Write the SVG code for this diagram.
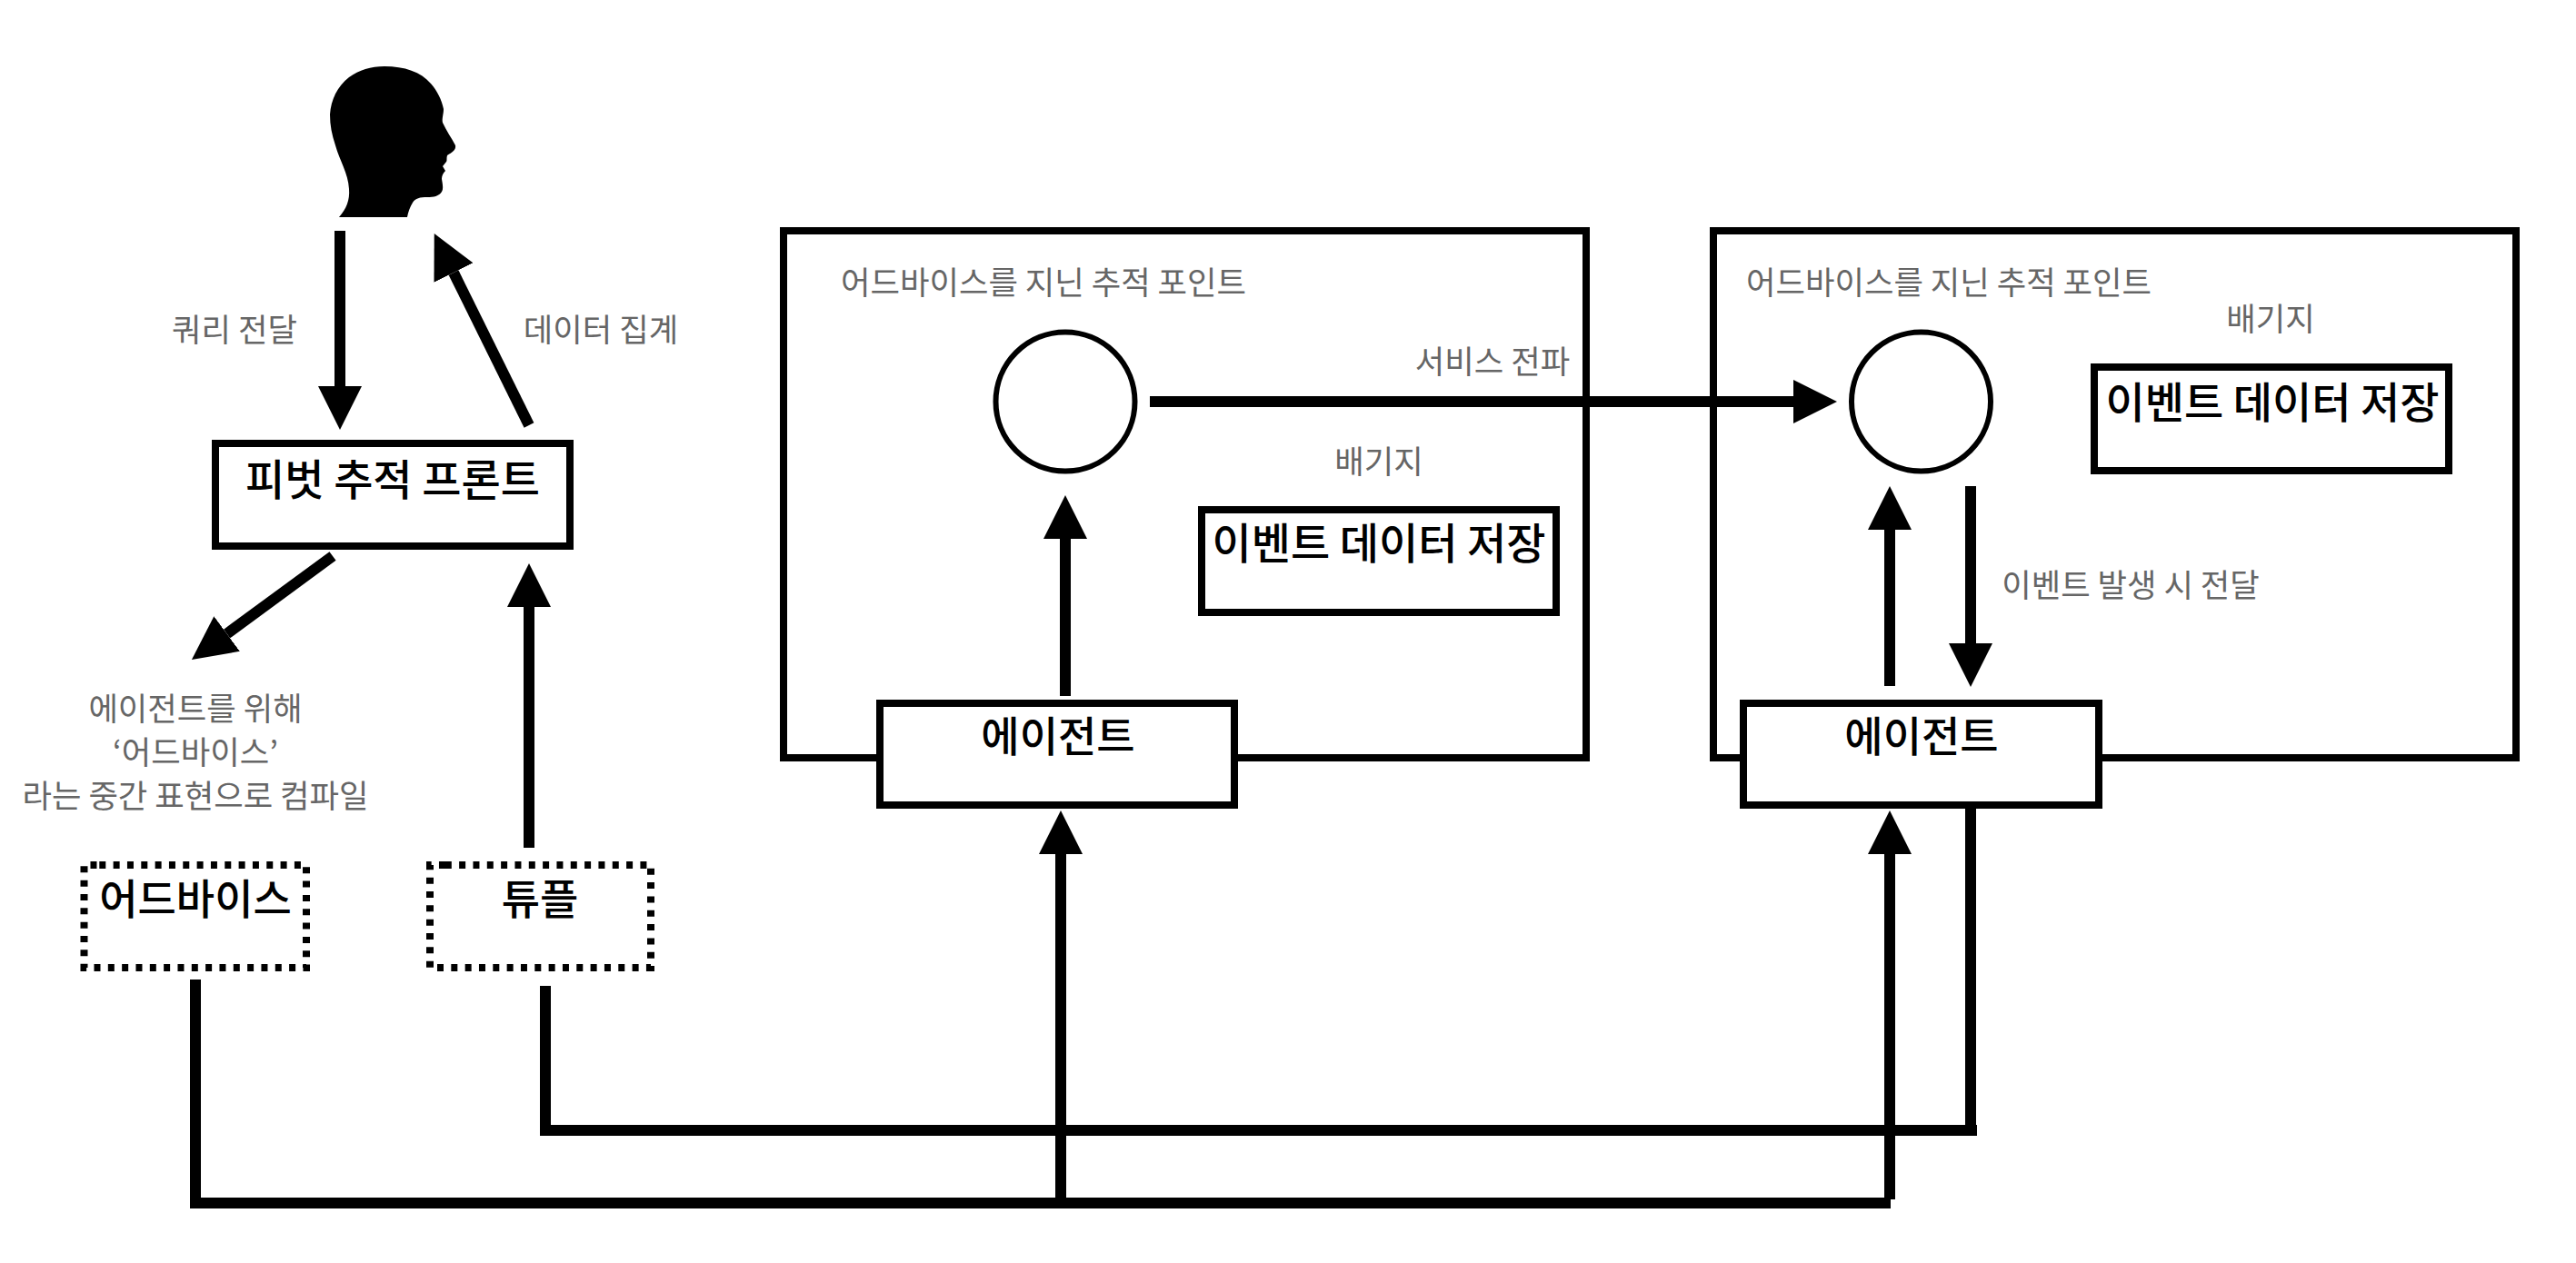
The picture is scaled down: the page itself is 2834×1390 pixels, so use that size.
<svg xmlns="http://www.w3.org/2000/svg" width="2834" height="1390" viewBox="0 0 2834 1390">
<style>
text{font-family:"Noto Sans CJK KR","Noto Sans",sans-serif;text-anchor:middle}
.g{font-size:35.300px;fill:#666}
.b{font-size:47px;font-weight:500;fill:#000}
.s{font-size:46px}
.box{fill:#fff;stroke:#000;stroke-width:8}
.ring{fill:#fff;stroke:#000;stroke-width:6}
.dot{fill:#fff;stroke:#000;stroke-width:8;stroke-dasharray:7 8.330}
.c{fill:none;stroke:#000;stroke-width:12}
.a{fill:none;stroke:#000;stroke-width:12;marker-end:url(#ah)}
</style>
<defs><marker id="ah" viewBox="0 0 4 4" refX="0" refY="2" markerWidth="4" markerHeight="4" orient="auto"><path d="M0,0L4,2L0,4Z" fill="#000"/></marker></defs>
<rect width="2834" height="1390" fill="#fff"/>
<g id="person"><path d="M373,239C381,230 385,220 384,208C383,190 374,178 369,160C365,148 363,138 363,126C364,110 371,95 384,85C395,77 408,73 423,73C445,73 463,79 474,92C481,100 486,110 488,120C488,126 486,130 487,135C491,144 497,152 501,160C502,165 497,168 492,171C491,174 492,177 491,178L487,183L490,188C487,191 486,194 486,197C487,203 488,208 486,211C483,216 477,217 470,217C462,217 457,218 454,223C451,228 449,233 448,239Z" fill="#000"/></g>
<g id="tracking-point-1"><rect class="box" x="862" y="254" width="883" height="580"/><text class="g" x="1148" y="324">어드바이스를 지닌 추적 포인트</text><circle class="ring" cx="1172" cy="442" r="76.500"/></g>
<g id="tracking-point-2"><rect class="box" x="1885" y="254" width="883" height="580"/><text class="g" x="2144" y="324">어드바이스를 지닌 추적 포인트</text><circle class="ring" cx="2113.500" cy="442" r="76.500"/></g>
<g id="connectors">
<path class="a" d="M374,254V425"/>
<path class="a" d="M582,468L499,300"/>
<path class="a" d="M366,612L249.600,697.500"/>
<path class="a" d="M582,933V668"/>
<path class="a" d="M1172,766V593"/>
<path class="a" d="M1265,442H1973"/>
<path class="a" d="M2079,755V583"/>
<path class="a" d="M2168,535V708"/>
<path class="c" d="M215,1078V1324H2080"/>
<path class="a" d="M1167,1324V940"/>
<path class="a" d="M2079,1320V940"/>
<path class="c" d="M600,1085V1244H2175"/>
<path class="c" d="M2168,886V1238"/>
</g>
<g id="port"><rect class="box" x="237" y="488" width="390" height="113"/><text class="b" x="432" y="545">피벗 추적 프론트</text></g>
<g id="advice"><path class="dot" d="M109.300,952H337V1065H92.500V952H109.300"/><text class="b s" x="215" y="1006">어드바이스</text></g>
<g id="tuple"><path class="dot" d="M489.800,952H716V1065H473V952H489.800"/><text class="b s" x="594" y="1006">튜플</text></g>
<g id="agent-1"><rect class="box" x="968" y="774" width="390" height="112"/><text class="b s" x="1164" y="827">에이전트</text></g>
<g id="agent-2"><rect class="box" x="1918" y="774" width="391" height="112"/><text class="b s" x="2114" y="827">에이전트</text></g>
<g id="store-1"><rect class="box" x="1322" y="561" width="390" height="113"/><text class="b" x="1517" y="615">이벤트 데이터 저장</text></g>
<g id="store-2"><rect class="box" x="2304" y="404" width="390" height="114"/><text class="b" x="2500" y="460">이벤트 데이터 저장</text></g>
<g id="labels">
<text class="g" x="258" y="376">쿼리 전달</text>
<text class="g" x="661" y="376">데이터 집계</text>
<text class="g" x="215" y="793">에이전트를 위해</text>
<text class="g" x="215" y="841">‘어드바이스’</text>
<text class="g" x="215" y="889">라는 중간 표현으로 컴파일</text>
<text class="g" x="1642" y="411">서비스 전파</text>
<text class="g" x="1517" y="521">배기지</text>
<text class="g" x="2498" y="364">배기지</text>
<text class="g" x="2344" y="657">이벤트 발생 시 전달</text>
</g>
</svg>
